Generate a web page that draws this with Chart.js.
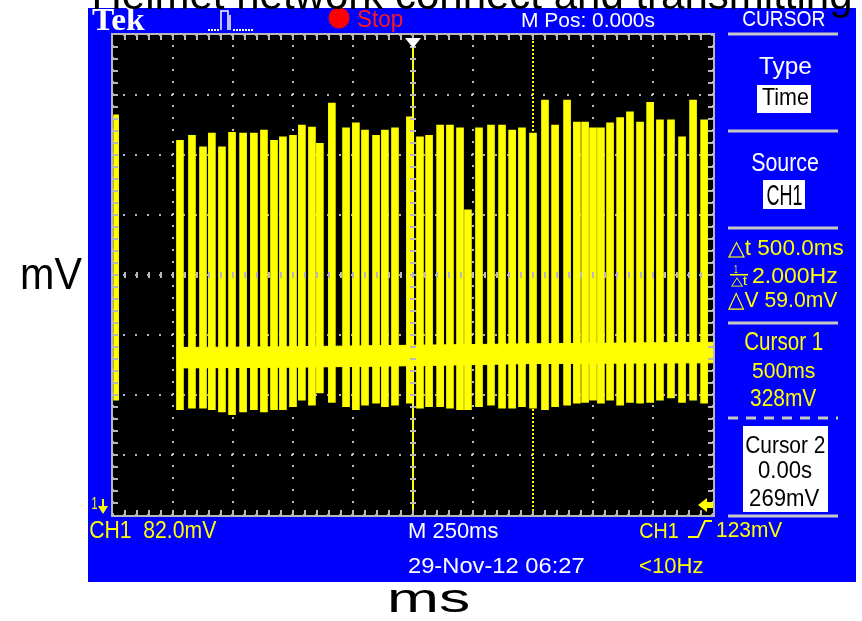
<!DOCTYPE html>
<html>
<head>
<meta charset="utf-8">
<script src="https://cdn.jsdelivr.net/npm/chart.js@4.4.0/dist/chart.umd.min.js"></script>
<style>
  html, body { margin: 0; padding: 0; background: #fff; }
</style>
</head>
<body>
<canvas id="scope" width="862" height="621"></canvas>
<script>
// --- texts ---
const TITLE = 'Helmet network connect and transmitting';
const X_LABEL = 'ms';
const Y_LABEL = 'mV';
const statusTop = ['Tek', 'Stop', 'M Pos: 0.000s', 'CURSOR'];
const menuItems = ['Type', 'Time', 'Source', 'CH1'];
const deltaReadouts = ['\u25B3t 500.0ms', '2.000Hz', '\u25B3V 59.0mV'];
const cursorNames = ['Cursor 1', 'Cursor 2'];
const cursorTimeText = ['500ms', '0.00s'];
const cursorMvText = ['328mV', '269mV'];
const statusBottom = ['CH1  82.0mV', 'M 250ms', 'CH1', '123mV', '29-Nov-12 06:27', '<10Hz'];

// --- axes (250 ms/div, 82 mV/div) ---
const xGridMs = [-1250, -1000, -750, -500, -250, 0, 250, 500, 750, 1000, 1250];
const yGridMv = [110, 192, 274, 356, 438, 520, 602, 684, 766];
const triggerMv = 123;

// --- cursors ---
const cursorMs = [500, 0];

// --- trace: burst at the left edge ---
const startMs = [-1237];
const startLowMv = [267];
const startHighMv = [657];

// --- trace: noisy base band ---
const bandMs = [-985, -500, 0, 500, 1250];
const bandTopMv = [339, 340, 342, 344, 346];
const bandBottomMv = [311, 312, 314, 317, 318];

// --- trace: pulse columns ---
const pulseMs = [-971, -921, -875, -838, -796, -754, -708, -663, -621, -579, -542, -500, -463, -421, -388, -338,
  -279, -238, -200, -154, -117, -75, -13, 29, 67, 113, 154, 196, 229, 275, 325, 371, 413, 454, 500, 550,
  592, 642, 683, 717, 750, 783, 821, 863, 904, 946, 988, 1029, 1075, 1121, 1167, 1213];
const pulseHighMv = [622, 629, 613, 632, 613, 633, 632, 632, 636, 622, 627, 629, 643, 640, 618, 673,
  639, 646, 636, 629, 636, 639, 654, 627, 629, 643, 643, 639, 527, 639, 643, 643, 636, 639, 632, 677,
  643, 677, 647, 647, 639, 639, 646, 653, 661, 647, 674, 650, 650, 627, 677, 650];
const pulseLowMv = [254, 256, 256, 254, 251, 247, 251, 254, 251, 254, 254, 258, 267, 260, 277, 264,
  258, 254, 260, 263, 258, 260, 263, 256, 258, 258, 256, 254, 254, 258, 260, 256, 256, 258, 256, 254,
  258, 260, 263, 264, 267, 263, 267, 260, 264, 263, 264, 267, 270, 264, 267, 263];

const YELLOW = '#ffff00';
const BLUE = '#0000fe';
const GRID = '#b8b8b8';
const SCOPE_FONT = '"Liberation Sans"';

// fit a string into a box: x1..x2 wide, ink top to baseline tall
function fit(ctx, s, x1, x2, top, base, color, family, weight) {
  family = family || SCOPE_FONT;
  weight = weight || 'normal';
  ctx.save();
  ctx.textAlign = 'left';
  ctx.textBaseline = 'alphabetic';
  ctx.font = weight + ' 100px ' + family;
  let m = ctx.measureText(s);
  const size = 100 * (base - top) / m.actualBoundingBoxAscent;
  ctx.font = weight + ' ' + size.toFixed(2) + 'px ' + family;
  m = ctx.measureText(s);
  const ink = m.actualBoundingBoxLeft + m.actualBoundingBoxRight;
  const sx = (x2 - x1) / ink;
  ctx.translate(x1 + m.actualBoundingBoxLeft * sx, base);
  ctx.scale(sx, 1);
  ctx.fillStyle = color;
  ctx.fillText(s, 0, 0);
  ctx.restore();
}

function hline(ctx, x1, x2, y, w, color, dash) {
  ctx.save();
  ctx.strokeStyle = color;
  ctx.lineWidth = w;
  ctx.setLineDash(dash || []);
  ctx.beginPath();
  ctx.moveTo(x1, y);
  ctx.lineTo(x2, y);
  ctx.stroke();
  ctx.restore();
}

const scopeDecor = {
  id: 'scopeDecor',
  beforeDraw(chart) {
    const ctx = chart.ctx, a = chart.chartArea;
    ctx.save();
    ctx.fillStyle = '#ffffff';
    ctx.fillRect(0, 0, chart.width, chart.height);
    ctx.fillStyle = BLUE;
    ctx.fillRect(88, 8, 768, 574);
    ctx.fillStyle = '#000000';
    ctx.fillRect(a.left, a.top, a.right - a.left, a.bottom - a.top);
    ctx.restore();
  },
  afterDraw(chart) {
    const ctx = chart.ctx, a = chart.chartArea;
    const xs = chart.scales.x, ys = chart.scales.y;
    const cx = Math.round(xs.getPixelForValue(0));
    const cy = Math.round(ys.getPixelForValue(yGridMv[4]));
    ctx.save();

    // graticule frame + minor ticks
    ctx.strokeStyle = GRID;
    ctx.lineWidth = 2;
    ctx.strokeRect(a.left - 1, a.top - 1, a.right - a.left + 2, a.bottom - a.top + 2);
    ctx.fillStyle = GRID;
    const mx = (a.right - a.left) / 50, my = (a.bottom - a.top) / 40;
    for (let k = 1; k < 50; k++) {
      const x = Math.round(a.left + k * mx);
      ctx.fillRect(x - 1, a.top, 2, 5);
      ctx.fillRect(x - 1, a.bottom - 5, 2, 5);
      ctx.fillRect(x - 1, cy - 3, 2, 6);
    }
    for (let k = 1; k < 40; k++) {
      const y = Math.round(a.top + k * my);
      ctx.fillRect(a.left, y - 1, 5, 2);
      ctx.fillRect(a.right - 5, y - 1, 5, 2);
      ctx.fillRect(cx - 3, y - 1, 6, 2);
    }

    // trigger position marker
    ctx.fillStyle = '#ffffff';
    ctx.beginPath();
    ctx.moveTo(cx - 8, a.top + 3);
    ctx.lineTo(cx + 8, a.top + 3);
    ctx.lineTo(cx, a.top + 13);
    ctx.closePath();
    ctx.fill();

    // trigger level arrow (right edge)
    const ty = Math.round(ys.getPixelForValue(triggerMv));
    ctx.fillStyle = YELLOW;
    ctx.beginPath();
    ctx.moveTo(a.right - 15, ty);
    ctx.lineTo(a.right - 6, ty - 7);
    ctx.lineTo(a.right - 6, ty + 7);
    ctx.closePath();
    ctx.fill();
    ctx.fillRect(a.right - 7, ty - 3, 7, 6);

    // channel 1 ground marker (off screen, below)
    fit(ctx, '1', 92, 97, 497, 509, YELLOW);
    ctx.fillStyle = YELLOW;
    ctx.fillRect(102, 499, 2, 9);
    ctx.beginPath();
    ctx.moveTo(98, 506);
    ctx.lineTo(108, 506);
    ctx.lineTo(103, 514);
    ctx.closePath();
    ctx.fill();

    // top status bar
    fit(ctx, statusTop[0], 92, 145, 8, 30, '#ffffff', '"Liberation Serif"', 'bold');
    ctx.strokeStyle = '#ffffff';
    ctx.lineWidth = 1.5;
    ctx.beginPath();
    ctx.moveTo(221, 30); ctx.lineTo(221, 11); ctx.lineTo(228, 11); ctx.lineTo(228, 30);
    ctx.moveTo(230, 30); ctx.lineTo(230, 15);
    ctx.stroke();
    ctx.fillStyle = '#ffffff';
    for (let x = 208; x <= 218; x += 3) ctx.fillRect(x, 29, 2, 2);
    for (let x = 233; x <= 251; x += 3) ctx.fillRect(x, 29, 2, 2);
    ctx.fillStyle = '#ff0000';
    ctx.beginPath();
    ctx.arc(339, 18, 10.5, 0, Math.PI * 2);
    ctx.fill();
    fit(ctx, statusTop[1], 358, 403, 10, 27, '#ff1a1a');
    fit(ctx, statusTop[2], 522, 655, 13, 27, '#ffffff');
    fit(ctx, statusTop[3], 743, 825, 10, 26, '#ffffff');

    // right menu
    const sep = [34, 131, 228, 323, 516];
    sep.forEach(y => hline(ctx, 728, 838, y, 3, '#c8c8c8'));
    hline(ctx, 728, 838, 418, 3, '#c8c8c8', [10, 8]);
    fit(ctx, menuItems[0], 759, 811, 58, 74, '#ffffff');
    ctx.fillStyle = '#ffffff';
    ctx.fillRect(757, 85, 54, 28);
    fit(ctx, menuItems[1], 762, 808, 88, 105, '#000000');
    fit(ctx, menuItems[2], 752, 818, 153, 171, '#ffffff');
    ctx.fillStyle = '#ffffff';
    ctx.fillRect(763, 180, 42, 29);
    fit(ctx, menuItems[3], 767, 802, 184, 205, '#000000');

    fit(ctx, deltaReadouts[0], 728, 843, 240, 255, YELLOW);
    fit(ctx, '1', 734, 738, 266, 273, YELLOW);
    ctx.fillStyle = YELLOW;
    ctx.fillRect(730, 274, 18, 1.5);
    fit(ctx, '\u25B3t', 731, 748, 277, 285, YELLOW);
    fit(ctx, deltaReadouts[1], 753, 837, 268, 283, YELLOW);
    fit(ctx, deltaReadouts[2], 728, 838, 291, 307, YELLOW);

    fit(ctx, cursorNames[0], 745, 823, 332, 350, YELLOW);
    fit(ctx, cursorTimeText[0], 752, 815, 362, 378, YELLOW);
    fit(ctx, cursorMvText[0], 750, 817, 389, 406, YELLOW);
    ctx.fillStyle = '#ffffff';
    ctx.fillRect(743, 426, 85, 86);
    fit(ctx, cursorNames[1], 746, 825, 436, 453, '#000000');
    fit(ctx, cursorTimeText[1], 758, 812, 461, 478, '#000000');
    fit(ctx, cursorMvText[1], 750, 820, 489, 506, '#000000');

    // bottom status bar
    fit(ctx, statusBottom[0], 90, 217, 521, 538, YELLOW);
    fit(ctx, statusBottom[1], 409, 498, 522, 538, '#ffffff');
    fit(ctx, statusBottom[2], 640, 678, 522, 538, YELLOW);
    ctx.strokeStyle = YELLOW;
    ctx.lineWidth = 2;
    ctx.beginPath();
    ctx.moveTo(688, 537); ctx.lineTo(698, 537); ctx.lineTo(705, 521); ctx.lineTo(712, 521);
    ctx.stroke();
    fit(ctx, statusBottom[3], 717, 783, 521, 537, YELLOW);
    fit(ctx, statusBottom[4], 409, 584, 557, 573, '#ffffff');
    fit(ctx, statusBottom[5], 640, 703, 557, 573, YELLOW);

    // figure texts
    fit(ctx, Y_LABEL, 22, 82, 259, 289, '#000000');
    fit(ctx, X_LABEL, 390, 468, 590, 612, '#000000');
    ctx.fillStyle = '#000000';
    ctx.font = '42px "Liberation Sans"';
    ctx.textAlign = 'center';
    ctx.textBaseline = 'alphabetic';
    ctx.fillText(TITLE, 472, 9);
    ctx.restore();
  }
};

const gridOpts = { color: GRID, lineWidth: 2, drawTicks: false, offset: false };

new Chart(document.getElementById('scope'), {
  type: 'bar',
  data: {
    datasets: [
      {
        type: 'line', label: 'band',
        data: bandMs.map((t, i) => ({ x: t, y: bandTopMv[i] })),
        borderColor: YELLOW, backgroundColor: YELLOW, borderWidth: 1, pointRadius: 0, fill: '+1'
      },
      {
        type: 'line', label: 'band low',
        data: bandMs.map((t, i) => ({ x: t, y: bandBottomMv[i] })),
        borderColor: YELLOW, borderWidth: 1, pointRadius: 0, fill: false
      },
      {
        label: 'pulses',
        data: pulseMs.map((t, i) => ({ x: t, y: [pulseLowMv[i], pulseHighMv[i]] })),
        backgroundColor: YELLOW, barThickness: 7, grouped: false, borderWidth: 0
      },
      {
        label: 'start',
        data: startMs.map((t, i) => ({ x: t, y: [startLowMv[i], startHighMv[i]] })),
        backgroundColor: YELLOW, barThickness: 5, grouped: false, borderWidth: 0
      },
      {
        type: 'line', label: cursorNames[1],
        data: [{ x: cursorMs[1], y: yGridMv[0] }, { x: cursorMs[1], y: yGridMv[yGridMv.length - 1] }],
        borderColor: YELLOW, borderWidth: 2, pointRadius: 0
      },
      {
        type: 'line', label: cursorNames[0],
        data: [{ x: cursorMs[0], y: yGridMv[0] }, { x: cursorMs[0], y: yGridMv[yGridMv.length - 1] }],
        borderColor: YELLOW, borderWidth: 2, borderDash: [2, 2], pointRadius: 0
      }
    ]
  },
  options: {
    responsive: false,
    animation: false,
    events: [],
    layout: { padding: { left: 113, top: 35, right: 149, bottom: 106 } },
    plugins: { legend: { display: false }, tooltip: { enabled: false }, title: { display: false } },
    scales: {
      x: {
        type: 'linear', min: xGridMs[0], max: xGridMs[xGridMs.length - 1], offset: false, z: 1,
        afterBuildTicks: s => { s.ticks = xGridMs.map(v => ({ value: v })); },
        ticks: { display: false },
        grid: gridOpts,
        border: { display: false, dash: [2, 10], dashOffset: -10 }
      },
      y: {
        type: 'linear', min: yGridMv[0], max: yGridMv[yGridMv.length - 1], z: 1,
        afterBuildTicks: s => { s.ticks = yGridMv.map(v => ({ value: v })); },
        ticks: { display: false },
        grid: gridOpts,
        border: { display: false, dash: [2, 10], dashOffset: -10 }
      }
    }
  },
  plugins: [scopeDecor]
});
</script>
</body>
</html>
